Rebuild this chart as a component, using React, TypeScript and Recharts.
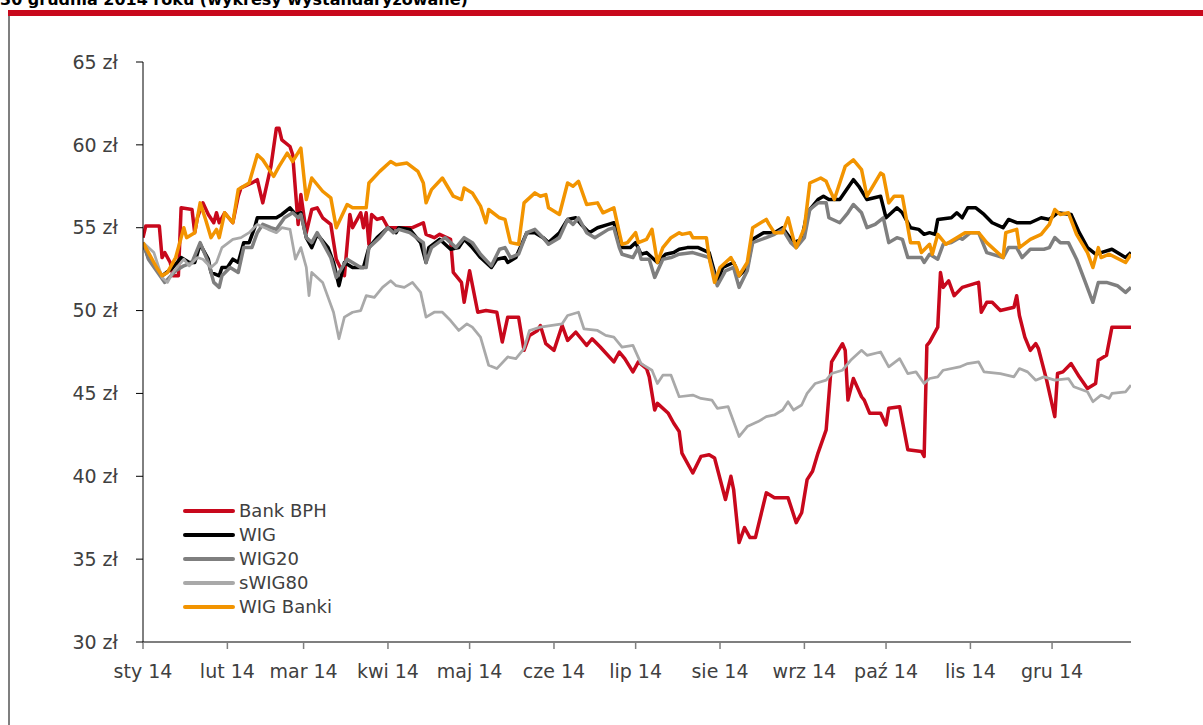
import { LineChart, Line, XAxis, YAxis, Legend } from 'recharts';

// Notowania 2014, wykresy wystandaryzowane (x = dzień roku od 1 stycznia)
const monthTicks = [0, 31, 59, 90, 120, 151, 181, 212, 243, 273, 304, 334];
const monthLabels = ['sty 14', 'lut 14', 'mar 14', 'kwi 14', 'maj 14', 'cze 14', 'lip 14', 'sie 14', 'wrz 14', 'paź 14', 'lis 14', 'gru 14'];
const priceTicks = [30, 35, 40, 45, 50, 55, 60, 65];

const bankBph: [number, number][] = [
  [0, 54.4], [1, 55.1], [6, 55.1], [7, 53.2], [8, 53.5], [10, 52.9], [11, 52.1], [13, 52.1], [14, 56.2], [18, 56.1],
  [19, 54.7], [20, 55.6], [22, 56.5], [24, 55.8], [26, 55.3], [27, 55.9], [28, 55.3], [30, 55.9], [33, 55.3], [35, 56.9],
  [36, 57.4], [40, 57.7], [42, 57.9], [44, 56.5], [47, 58.7], [49, 61.0], [50, 61.0], [51, 60.3], [54, 59.9], [55, 59.4],
  [57, 55.2], [58, 57.0], [60, 54.7], [62, 56.1], [64, 56.2], [66, 55.6], [69, 55.2], [71, 53.1], [74, 52.1], [76, 55.8],
  [77, 55.0], [80, 55.9], [81, 55.0], [82, 55.9], [83, 54.0], [84, 55.8], [86, 55.5], [88, 55.6], [90, 55.0], [93, 55.0],
  [99, 55.0], [103, 55.3], [104, 54.6], [107, 54.4], [109, 54.6], [113, 54.3], [114, 52.3], [117, 51.7], [118, 50.5], [120, 52.4],
  [123, 49.9], [126, 50.0], [130, 49.9], [132, 48.1], [134, 49.6], [138, 49.6], [140, 47.6], [142, 48.5], [145, 48.8], [146, 49.1],
  [148, 48.0], [151, 47.6], [154, 49.1], [156, 48.2], [159, 48.7], [161, 48.3], [163, 47.9], [165, 48.3], [168, 47.8], [173, 46.9],
  [175, 47.5], [177, 47.1], [180, 46.3], [182, 46.9], [185, 46.5], [186, 46.0], [188, 44.0], [189, 44.4], [193, 43.8], [195, 43.2],
  [197, 42.7], [198, 41.4], [202, 40.2], [205, 41.2], [208, 41.3], [210, 41.1], [214, 38.6], [216, 40.0], [217, 39.2], [219, 36.0],
  [221, 36.9], [223, 36.3], [225, 36.3], [229, 39.0], [232, 38.7], [237, 38.7], [240, 37.2], [242, 37.8], [244, 39.8], [246, 40.3],
  [248, 41.4], [251, 42.8], [253, 46.9], [257, 48.0], [258, 47.6], [259, 44.6], [261, 45.9], [264, 44.8], [265, 44.6], [267, 43.8],
  [271, 43.8], [273, 43.1], [274, 44.1], [278, 44.2], [281, 41.6], [286, 41.5], [287, 41.2], [288, 47.9], [289, 48.1], [292, 49.0],
  [293, 52.3], [294, 51.4], [296, 51.8], [298, 50.9], [301, 51.4], [307, 51.7], [308, 49.9], [310, 50.5], [312, 50.5], [315, 50.0],
  [320, 50.2], [321, 50.9], [322, 49.7], [324, 48.4], [326, 47.6], [328, 48.0], [329, 47.7], [332, 45.8], [335, 43.6], [336, 46.2],
  [338, 46.3], [341, 46.8], [344, 46.0], [347, 45.3], [350, 45.6], [351, 47.0], [354, 47.3], [356, 49.0], [363, 49.0],
];

const wig: [number, number][] = [
  [0, 54.1], [2, 53.2], [7, 52.1], [11, 52.6], [14, 53.2], [17, 52.9], [19, 52.9], [21, 54.0], [24, 53.1], [25, 52.3],
  [28, 52.1], [29, 52.6], [31, 52.6], [33, 53.1], [35, 52.9], [37, 54.1], [39, 54.1], [41, 55.0], [42, 55.6], [46, 55.6],
  [49, 55.6], [51, 55.8], [54, 56.2], [56, 55.8], [58, 55.9], [60, 54.4], [62, 53.8], [64, 54.6], [68, 53.8], [70, 52.9],
  [72, 51.5], [74, 52.9], [77, 52.6], [81, 52.6], [83, 53.8], [86, 54.4], [90, 55.0], [93, 54.7], [94, 55.0], [98, 54.9],
  [102, 54.1], [104, 52.9], [105, 53.8], [109, 54.3], [113, 53.7], [116, 53.8], [118, 54.3], [121, 53.8], [124, 53.2], [128, 52.6],
  [130, 53.1], [133, 53.2], [134, 52.9], [137, 53.2], [141, 54.7], [144, 54.7], [147, 54.4], [149, 54.1], [153, 54.7], [156, 55.5],
  [159, 55.6], [161, 55.2], [164, 54.7], [167, 55.0], [171, 55.2], [173, 55.3], [175, 54.1], [176, 53.8], [179, 53.8], [181, 54.1],
  [183, 53.4], [185, 53.5], [187, 53.2], [189, 52.9], [192, 53.4], [195, 53.5], [197, 53.7], [200, 53.8], [204, 53.8], [208, 53.5],
  [211, 51.7], [213, 52.6], [217, 52.9], [219, 52.1], [222, 52.6], [224, 54.3], [228, 54.7], [232, 54.7], [235, 55.0], [239, 54.1],
  [242, 54.3], [244, 55.9], [248, 56.7], [250, 56.9], [252, 56.7], [256, 56.7], [261, 57.9], [263, 57.5], [266, 56.7], [271, 56.9],
  [273, 55.6], [277, 56.2], [279, 55.9], [282, 55.0], [285, 54.9], [287, 54.6], [289, 54.7], [291, 54.6], [292, 55.5], [297, 55.6],
  [299, 55.9], [301, 55.6], [303, 56.2], [306, 56.2], [309, 55.8], [312, 55.3], [316, 55.0], [318, 55.5], [321, 55.3], [326, 55.3],
  [330, 55.6], [333, 55.5], [336, 55.9], [341, 55.8], [344, 54.7], [347, 53.8], [350, 53.4], [352, 53.5], [356, 53.7], [361, 53.2],
  [363, 53.5],
];

const wig20: [number, number][] = [
  [0, 54.1], [2, 53.1], [8, 51.7], [12, 52.4], [15, 52.7], [18, 52.9], [21, 54.1], [24, 52.9], [26, 51.7], [28, 51.4],
  [29, 52.1], [32, 52.6], [35, 52.3], [37, 53.8], [40, 53.8], [42, 54.7], [44, 55.2], [47, 55.0], [49, 54.9], [52, 55.6],
  [55, 55.9], [57, 55.6], [58, 55.8], [60, 54.4], [62, 54.1], [64, 54.7], [69, 53.2], [71, 52.0], [75, 53.1], [80, 52.6],
  [82, 52.6], [83, 53.8], [87, 54.4], [90, 55.0], [92, 54.7], [94, 54.9], [98, 54.7], [103, 54.1], [104, 52.9], [106, 53.8],
  [111, 54.4], [115, 53.8], [118, 54.4], [121, 54.1], [124, 53.4], [128, 52.7], [131, 53.7], [133, 53.8], [135, 53.2], [138, 53.4],
  [141, 54.7], [144, 54.9], [147, 54.4], [149, 54.0], [153, 54.4], [156, 55.5], [158, 55.2], [160, 55.6], [163, 54.7], [166, 54.4],
  [171, 54.9], [173, 55.0], [175, 53.8], [176, 53.4], [180, 53.2], [182, 53.8], [183, 53.1], [186, 53.1], [188, 52.0], [191, 53.1],
  [194, 53.2], [197, 53.4], [202, 53.5], [208, 53.2], [211, 51.5], [214, 52.4], [217, 52.6], [219, 51.4], [222, 52.4], [224, 54.1],
  [229, 54.4], [232, 54.6], [235, 54.9], [238, 54.1], [240, 53.8], [243, 54.4], [245, 56.1], [248, 56.5], [251, 56.5], [252, 55.6],
  [256, 55.3], [259, 55.9], [261, 56.4], [264, 55.9], [266, 55.0], [269, 55.2], [272, 55.6], [274, 54.1], [277, 54.4], [279, 54.3],
  [281, 53.2], [286, 53.2], [287, 52.9], [289, 53.4], [292, 53.1], [294, 54.0], [297, 54.1], [300, 54.4], [301, 54.3], [304, 54.7],
  [307, 54.7], [310, 53.5], [316, 53.2], [318, 53.8], [321, 53.8], [323, 53.2], [326, 53.7], [331, 53.7], [333, 53.8], [335, 54.4],
  [337, 54.1], [340, 54.1], [343, 53.1], [346, 51.8], [349, 50.5], [351, 51.7], [354, 51.7], [358, 51.5], [361, 51.1], [363, 51.4],
];

const swig80: [number, number][] = [
  [0, 54.1], [4, 53.5], [7, 52.0], [9, 51.7], [11, 52.3], [15, 53.1], [17, 52.7], [20, 53.2], [22, 53.1], [25, 52.6],
  [27, 52.9], [29, 53.8], [33, 54.3], [36, 54.4], [39, 54.7], [42, 55.2], [46, 54.9], [49, 54.7], [51, 55.0], [54, 54.9],
  [56, 53.1], [58, 53.8], [60, 52.6], [61, 50.9], [62, 52.3], [66, 51.7], [70, 49.9], [72, 48.3], [74, 49.6], [77, 49.9],
  [80, 50.0], [82, 50.9], [85, 50.8], [88, 51.4], [91, 51.8], [93, 51.5], [96, 51.4], [99, 51.7], [102, 51.1], [104, 49.6],
  [107, 49.9], [110, 49.9], [113, 49.4], [116, 48.8], [119, 49.2], [121, 49.0], [124, 48.4], [127, 46.7], [130, 46.5], [134, 47.2],
  [137, 47.1], [140, 47.7], [142, 48.8], [146, 49.0], [154, 49.2], [156, 49.7], [160, 49.9], [162, 48.9], [167, 48.8], [170, 48.5],
  [173, 48.4], [176, 47.8], [180, 47.9], [183, 46.8], [187, 46.4], [189, 45.6], [191, 46.1], [194, 46.1], [197, 44.8], [202, 44.9],
  [205, 44.7], [209, 44.6], [211, 44.1], [215, 44.2], [219, 42.4], [222, 43.0], [226, 43.3], [229, 43.6], [232, 43.7], [235, 44.0],
  [237, 44.5], [239, 44.0], [242, 44.3], [244, 45.0], [247, 45.6], [251, 45.8], [253, 46.2], [257, 46.4], [260, 47.0], [264, 47.6],
  [266, 47.3], [271, 47.5], [274, 46.6], [278, 47.1], [281, 46.2], [284, 46.3], [287, 45.6], [289, 45.9], [292, 46.0], [294, 46.4],
  [300, 46.6], [303, 46.8], [307, 46.9], [309, 46.3], [315, 46.2], [320, 46.0], [322, 46.5], [325, 46.3], [328, 45.8], [331, 46.0],
  [335, 45.8], [340, 45.9], [342, 45.4], [347, 45.1], [349, 44.5], [352, 44.9], [355, 44.7], [356, 45.0], [361, 45.1], [363, 45.5],
];

const wigBanki: [number, number][] = [
  [0, 54.1], [5, 52.6], [7, 52.1], [9, 52.3], [12, 53.2], [15, 55.0], [16, 54.4], [19, 54.7], [21, 56.5], [23, 55.5],
  [25, 54.4], [27, 54.9], [28, 54.4], [30, 55.9], [33, 55.3], [35, 57.3], [37, 57.5], [39, 57.7], [42, 59.4], [44, 59.1],
  [48, 58.1], [50, 58.7], [53, 59.5], [55, 59.0], [58, 59.8], [60, 56.7], [62, 58.0], [66, 57.2], [69, 56.8], [71, 55.0],
  [75, 56.4], [77, 56.2], [82, 56.2], [83, 57.7], [87, 58.4], [91, 59.0], [93, 58.8], [97, 58.9], [101, 58.4], [103, 57.7],
  [104, 56.5], [106, 57.3], [110, 58.0], [114, 56.9], [117, 56.7], [118, 57.4], [121, 57.1], [124, 56.3], [126, 55.3], [127, 56.1],
  [131, 55.6], [133, 55.5], [135, 54.1], [138, 54.0], [140, 56.5], [144, 57.1], [146, 56.9], [148, 57.0], [149, 56.2], [153, 55.8],
  [156, 57.7], [158, 57.5], [160, 57.8], [163, 56.4], [167, 56.5], [169, 55.9], [173, 56.2], [175, 54.7], [176, 54.0], [178, 54.1],
  [181, 54.7], [182, 54.1], [185, 54.3], [187, 54.9], [189, 52.9], [191, 53.8], [194, 54.4], [197, 54.7], [198, 54.6], [201, 54.7],
  [202, 54.4], [207, 54.4], [208, 53.2], [210, 51.7], [212, 52.6], [216, 53.2], [218, 52.6], [219, 52.1], [222, 52.9], [224, 55.0],
  [229, 55.5], [230, 55.2], [232, 54.7], [235, 54.7], [237, 55.6], [239, 54.3], [240, 53.8], [243, 55.0], [245, 57.7], [249, 58.0],
  [251, 57.8], [252, 57.4], [254, 56.7], [258, 58.7], [261, 59.1], [264, 58.5], [266, 56.9], [271, 58.3], [272, 58.2], [274, 56.5],
  [276, 56.9], [279, 56.9], [282, 54.1], [285, 54.1], [286, 53.5], [289, 54.0], [290, 53.4], [292, 54.6], [295, 54.0], [299, 54.4],
  [302, 54.7], [307, 54.7], [310, 54.1], [316, 53.2], [317, 54.7], [321, 54.9], [322, 53.8], [326, 54.3], [330, 54.6], [332, 55.0],
  [333, 55.2], [335, 56.1], [337, 55.8], [340, 55.9], [343, 54.6], [347, 53.5], [349, 52.6], [351, 53.8], [352, 53.2], [355, 53.4],
  [361, 52.9], [363, 53.4],
];

const series = [
  { name: 'Bank BPH', points: bankBph, color: '#c8081c', width: 3.5 },
  { name: 'WIG', points: wig, color: '#000000', width: 3.5 },
  { name: 'WIG20', points: wig20, color: '#7f7f7f', width: 3.5 },
  { name: 'sWIG80', points: swig80, color: '#a9a9a9', width: 2.75 },
  { name: 'WIG Banki', points: wigBanki, color: '#f29400', width: 3.5 },
];
const seriesOrder = series.map((s) => s.name);

const labelColor = '#404040';

// eslint-disable-next-line @typescript-eslint/no-explicit-any
function SeriesLegend({ payload }: any) {
  // legenda w kolejności serii, nie alfabetycznie
  const items = [...(payload || [])].sort(
    (a: any, b: any) => seriesOrder.indexOf(a.value) - seriesOrder.indexOf(b.value),
  );
  return (
    <div>
      {items.map((entry: any) => (
        <div key={entry.value} style={{ display: 'flex', alignItems: 'center', height: 24 }}>
          <span
            style={{ display: 'inline-block', width: 52, height: 4, borderRadius: 2, background: entry.color, marginRight: 4 }}
          />
          <span style={{ fontSize: 18, color: labelColor, lineHeight: '24px' }}>{entry.value}</span>
        </div>
      ))}
    </div>
  );
}

export default function App() {
  return (
    <div
      style={{
        position: 'absolute',
        left: 0,
        top: 0,
        width: 1203,
        height: 725,
        background: '#fff',
        overflow: 'hidden',
        fontFamily: '"DejaVu Sans", sans-serif',
      }}
    >
      {/* tytuł ucięty u góry kadru, jak w oryginale */}
      <div
        style={{
          position: 'absolute',
          left: 0,
          top: -8,
          fontSize: 16,
          fontWeight: 'bold',
          lineHeight: '16px',
          color: '#000',
          whiteSpace: 'nowrap',
        }}
      >
        30 grudnia 2014 roku (wykresy wystandaryzowane)
      </div>
      <div style={{ position: 'absolute', left: 8, top: 10, width: 1195, height: 6, background: '#c8081c' }} />
      <div style={{ position: 'absolute', left: 8, top: 16, width: 2, height: 709, background: '#7f7f7f' }} />

      <LineChart
        width={1203}
        height={725}
        margin={{ top: 62, right: 72, left: 83, bottom: 43 }}
        style={{ position: 'absolute', left: 0, top: 0 }}
      >
        <XAxis
          type="number"
          dataKey="day"
          domain={[0, 363]}
          ticks={monthTicks}
          tickFormatter={(d: number) => monthLabels[monthTicks.indexOf(d)] ?? ''}
          allowDataOverflow
          height={40}
          tickSize={7}
          tickMargin={16}
          axisLine={{ stroke: '#7f7f7f', strokeWidth: 2 }}
          tickLine={{ stroke: '#7f7f7f', strokeWidth: 1.5 }}
          tick={{ fill: labelColor, fontSize: 19 }}
        />
        <YAxis
          type="number"
          domain={[30, 65]}
          ticks={priceTicks}
          width={60}
          tickSize={7}
          tickMargin={18}
          tickFormatter={(v: number) => `${v} zł`}
          axisLine={{ stroke: '#000', strokeWidth: 1 }}
          tickLine={{ stroke: '#000', strokeWidth: 1 }}
          tick={{ fill: labelColor, fontSize: 19 }}
        />
        <Legend
          layout="horizontal"
          verticalAlign="middle"
          align="center"
          content={<SeriesLegend />}
          wrapperStyle={{ left: 183, top: 499, width: 220, height: 125 }}
        />
        {series.map((s) => (
          <Line
            key={s.name}
            name={s.name}
            data={s.points.map(([day, v]) => ({ day, v }))}
            dataKey="v"
            type="linear"
            stroke={s.color}
            strokeWidth={s.width}
            strokeLinejoin="round"
            dot={false}
            activeDot={false}
            isAnimationActive={false}
          />
        ))}
      </LineChart>
    </div>
  );
}
